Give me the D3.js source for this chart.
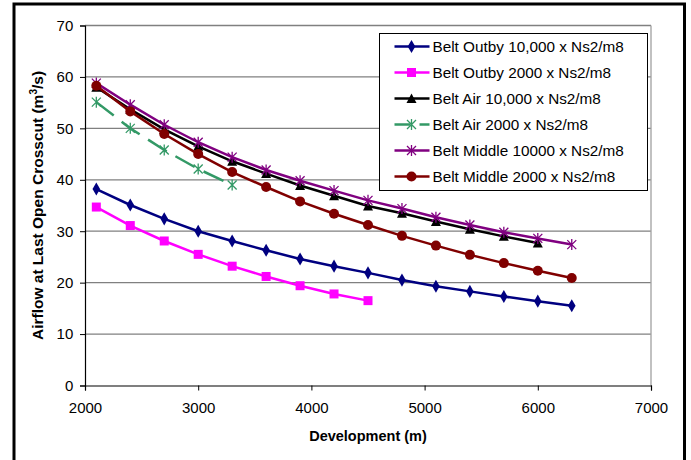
<!DOCTYPE html>
<html>
<head>
<meta charset="utf-8">
<script src="https://cdn.jsdelivr.net/npm/d3@7"></script>
<style>
  body { margin: 0; background: #fff; }
  text { font-family: Arial, "Liberation Sans", sans-serif; }
</style>
</head>
<body>
<div id="chart"></div>
<script>
var svgWidth = 691;
var svgHeight = 460;
var margin = {top: 25.5, right: 40, bottom: 74.5, left: 85};

// data
var xOutby10000 = [2100, 2400, 2700, 3000, 3300, 3600, 3900, 4200, 4500, 4800, 5100, 5400, 5700, 6000, 6300];
var beltOutby10000 = [38.2, 35.1, 32.4, 30.0, 28.1, 26.3, 24.6, 23.2, 21.9, 20.5, 19.3, 18.3, 17.3, 16.4, 15.5];
var xOutby2000 = [2100, 2400, 2700, 3000, 3300, 3600, 3900, 4200, 4500];
var beltOutby2000 = [34.7, 31.1, 28.1, 25.5, 23.2, 21.2, 19.4, 17.8, 16.5];
var xAir10000 = [2100, 2400, 2700, 3000, 3300, 3600, 3900, 4200, 4500, 4800, 5100, 5400, 5700, 6000];
var beltAir10000 = [58.0, 53.7, 49.8, 46.5, 43.6, 41.2, 38.9, 36.9, 34.9, 33.5, 31.9, 30.4, 29.0, 27.7];
var xAir2000 = [2100, 2400, 2700, 3000, 3300];
var beltAir2000 = [55.1, 50.0, 45.8, 42.1, 39.0];
var xMiddle10000 = [2100, 2400, 2700, 3000, 3300, 3600, 3900, 4200, 4500, 4800, 5100, 5400, 5700, 6000, 6300];
var beltMiddle10000 = [58.8, 54.6, 50.7, 47.3, 44.4, 41.9, 39.8, 37.9, 36.0, 34.4, 32.7, 31.2, 29.8, 28.6, 27.4];
var xMiddle2000 = [2100, 2400, 2700, 3000, 3300, 3600, 3900, 4200, 4500, 4800, 5100, 5400, 5700, 6000, 6300];
var beltMiddle2000 = [58.3, 53.3, 48.9, 45.0, 41.5, 38.6, 35.8, 33.4, 31.2, 29.1, 27.2, 25.4, 23.8, 22.3, 20.9];

var xTicks = [2000, 3000, 4000, 5000, 6000, 7000];
var yTicks = [0, 10, 20, 30, 40, 50, 60, 70];

var series = [
  {name: "Belt Outby 10,000 x Ns2/m8", xs: xOutby10000, ys: beltOutby10000, color: "#000080", marker: "diamond"},
  {name: "Belt Outby 2000 x Ns2/m8", xs: xOutby2000, ys: beltOutby2000, color: "#FF00FF", marker: "square"},
  {name: "Belt Air 10,000 x Ns2/m8", xs: xAir10000, ys: beltAir10000, color: "#000000", marker: "triangle"},
  {name: "Belt Air 2000 x Ns2/m8", xs: xAir2000, ys: beltAir2000, color: "#339966", marker: "star", dash: "22,10"},
  {name: "Belt Middle 10000 x Ns2/m8", xs: xMiddle10000, ys: beltMiddle10000, color: "#800080", marker: "star"},
  {name: "Belt Middle 2000 x Ns2/m8", xs: xMiddle2000, ys: beltMiddle2000, color: "#800000", marker: "circle"}
];

var chartWidth = svgWidth - margin.left - margin.right;
var chartHeight = svgHeight - margin.top - margin.bottom;

var svg = d3.select("#chart").append("svg")
    .attr("width", svgWidth)
    .attr("height", svgHeight);

// outer frame
svg.append("rect")
    .attr("x", 14).attr("y", 4)
    .attr("width", 670.5).attr("height", 470)
    .attr("fill", "none")
    .attr("stroke", "#000")
    .attr("stroke-width", 3);

var chartGroup = svg.append("g")
    .attr("transform", `translate(${margin.left},${margin.top})`);

var xScale = d3.scaleLinear().domain([2000, 7000]).range([0, chartWidth]);
var yScale = d3.scaleLinear().domain([0, 70]).range([chartHeight, 0]);

// gridlines
chartGroup.selectAll(".grid")
    .data(yTicks.filter(d => d > 0))
    .enter().append("line")
    .attr("x1", 0).attr("x2", chartWidth)
    .attr("y1", d => yScale(d)).attr("y2", d => yScale(d))
    .attr("stroke", "#808080")
    .attr("stroke-width", 1.3);

// plot area right border
chartGroup.append("line")
    .attr("x1", chartWidth).attr("x2", chartWidth)
    .attr("y1", 0).attr("y2", chartHeight)
    .attr("stroke", "#a0a0a0")
    .attr("stroke-width", 1.3);

// axes
var xAxis = d3.axisBottom(xScale).tickValues(xTicks).tickSize(5).tickFormat(d3.format("d"));
var yAxis = d3.axisLeft(yScale).tickValues(yTicks).tickSize(5);

var gx = chartGroup.append("g")
    .attr("transform", `translate(0,${chartHeight})`)
    .call(xAxis);
var gy = chartGroup.append("g").call(yAxis);

[gx, gy].forEach(function(g) {
  g.select(".domain").attr("stroke", "#000").attr("stroke-width", 1.2);
  g.selectAll(".tick line").attr("stroke", "#000");
  g.selectAll(".tick text")
      .attr("font-size", 15)
      .attr("font-family", "Arial, 'Liberation Sans', sans-serif")
      .attr("fill", "#000");
});
gx.selectAll(".tick text").attr("dy", "1.3em");
gy.selectAll(".tick text").attr("dx", "-0.25em");

// axis titles
chartGroup.append("text")
    .attr("x", chartWidth / 2)
    .attr("y", chartHeight + 55.5)
    .attr("text-anchor", "middle")
    .attr("font-size", 14.5)
    .attr("font-weight", "bold")
    .text("Development (m)");

var yTitle = chartGroup.append("text")
    .attr("transform", `translate(-42,${chartHeight / 2}) rotate(-90)`)
    .attr("text-anchor", "middle")
    .attr("font-size", 15.5)
    .attr("font-weight", "bold");
yTitle.append("tspan").text("Airflow at Last Open Crosscut (m");
yTitle.append("tspan").attr("font-size", 10).attr("dy", -6).text("3");
yTitle.append("tspan").attr("dy", 6).text("/s)");

// marker drawing
function drawMarker(g, type, color) {
  if (type === "diamond") {
    g.append("path").attr("d", d3.symbol(d3.symbolDiamond, 50)())
        .attr("fill", color);
  } else if (type === "square") {
    g.append("rect").attr("x", -4.5).attr("y", -4.5).attr("width", 9).attr("height", 9)
        .attr("fill", color);
  } else if (type === "triangle") {
    g.append("path").attr("d", "M0,-5L5,4.5L-5,4.5Z").attr("fill", color);
  } else if (type === "circle") {
    g.append("circle").attr("r", 5).attr("fill", color);
  } else if (type === "star") {
    g.append("path").attr("d", "M-4.5,-4.5L4.5,4.5M-4.5,4.5L4.5,-4.5M0,-5.5L0,5.5")
        .attr("stroke", color).attr("stroke-width", 1.3).attr("fill", "none");
  }
}

var line = d3.line()
    .x(d => xScale(d[0]))
    .y(d => yScale(d[1]));

series.forEach(function(s) {
  var pts = s.xs.map((x, i) => [x, s.ys[i]]);
  chartGroup.append("path")
      .datum(pts)
      .attr("d", line)
      .attr("fill", "none")
      .attr("stroke", s.color)
      .attr("stroke-width", 2.5)
      .attr("stroke-dasharray", s.dash || null);
  pts.forEach(function(p) {
    var m = chartGroup.append("g")
        .attr("transform", `translate(${xScale(p[0])},${yScale(p[1])})`);
    drawMarker(m, s.marker, s.color);
  });
});

// legend
var legend = svg.append("g").attr("transform", "translate(379.5,33.5)");
legend.append("rect")
    .attr("width", 268).attr("height", 157)
    .attr("fill", "#fff")
    .attr("stroke", "#000")
    .attr("stroke-width", 1);

series.forEach(function(s, i) {
  var row = legend.append("g").attr("transform", `translate(0,${13 + i * 26})`);
  row.append("line")
      .attr("x1", 15).attr("x2", 50)
      .attr("stroke", s.color)
      .attr("stroke-width", 2.5)
      .attr("stroke-dasharray", s.dash ? "16,9" : null);
  var m = row.append("g").attr("transform", "translate(32,0)");
  drawMarker(m, s.marker, s.color);
  row.append("text")
      .attr("x", 53).attr("y", 5.5)
      .attr("font-size", 15.3)
      .text(s.name);
});
</script>
</body>
</html>
